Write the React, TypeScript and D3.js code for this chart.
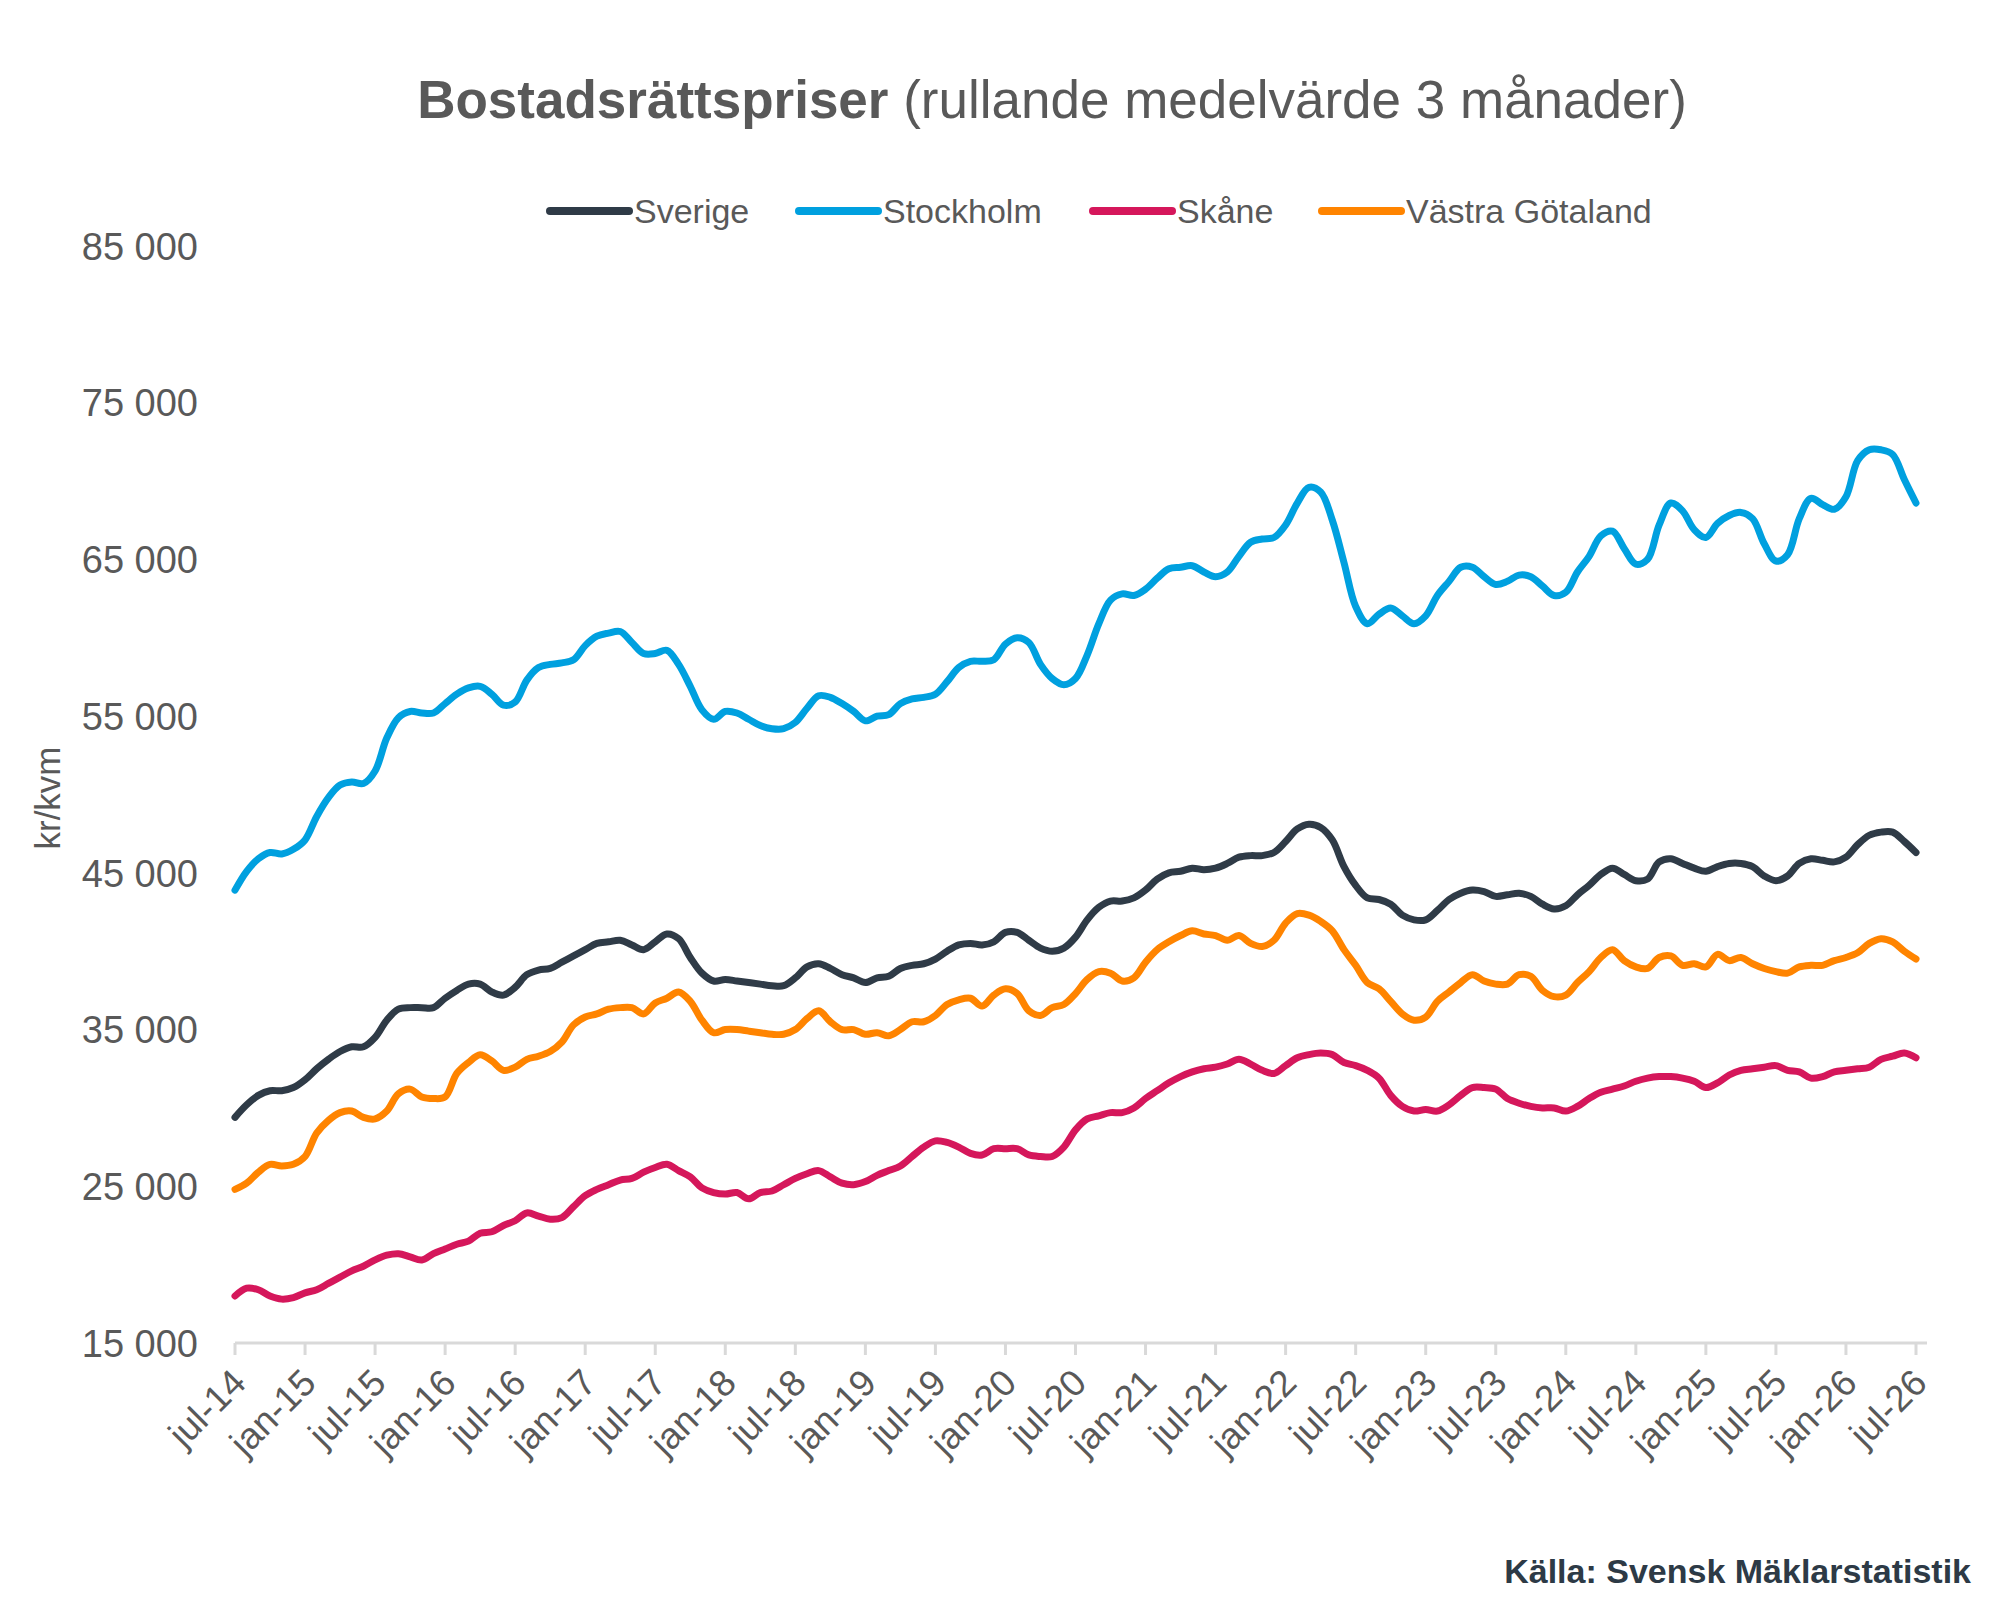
import React, { useEffect, useRef } from "react";
import * as d3 from "d3";

// monthly values, jul-14 .. jul-26 (rolling 3-month mean, kr/kvm)
const sverige: number[] = [
  29400, 30200, 30800, 31100, 31100, 31300, 31800, 32500, 33100, 33600, 33900, 33900,
  34500, 35600, 36300, 36400, 36400, 36400, 37000, 37500, 37900, 37900, 37400, 37200,
  37700, 38500, 38800, 38900, 39300, 39700, 40100, 40500, 40600, 40700, 40400, 40100,
  40600, 41100, 40800, 39600, 38600, 38100, 38200, 38100, 38000, 37900, 37800, 37800,
  38300, 39000, 39200, 38900, 38500, 38300, 38000, 38300, 38400, 38900, 39100, 39200,
  39500, 40000, 40400, 40500, 40400, 40600, 41200, 41200, 40700, 40200, 40000, 40200,
  40900, 42000, 42800, 43200, 43200, 43400, 43900, 44600, 45000, 45100, 45300, 45200,
  45300, 45600, 46000, 46100, 46100, 46300, 47000, 47800, 48100, 47900, 47100, 45400,
  44200, 43400, 43300, 43000, 42300, 42000, 42000, 42600, 43300, 43700, 43900, 43800,
  43500, 43600, 43700, 43500, 43000, 42700, 42900, 43600, 44200, 44900, 45300, 44900,
  44500, 44600, 45700, 45900, 45600, 45300, 45100, 45400, 45600, 45600, 45400, 44800,
  44500, 44800, 45600, 45900, 45800, 45700, 46000, 46800, 47400, 47600, 47600, 47000,
  46300,
];

const stockholm: number[] = [
  43900, 45100, 45900, 46300, 46200, 46500, 47100, 48600, 49800, 50600, 50800, 50700,
  51500, 53600, 54900, 55300, 55200, 55200, 55800, 56400, 56800, 56900, 56400, 55700,
  55900, 57300, 58100, 58300, 58400, 58600, 59500, 60100, 60300, 60400, 59700, 59000,
  59000, 59200, 58300, 56900, 55400, 54800, 55300, 55200, 54800, 54400, 54200, 54200,
  54600, 55500, 56300, 56200, 55800, 55300, 54700, 55000, 55100, 55800, 56100, 56200,
  56400, 57200, 58100, 58500, 58500, 58600, 59600, 60000, 59700, 58300, 57400, 57000,
  57400, 58900, 60900, 62400, 62800, 62700, 63100, 63800, 64400, 64500, 64600, 64200,
  63900, 64200, 65200, 66100, 66300, 66400, 67200, 68600, 69600, 69300, 67500, 64800,
  62000, 60900, 61500, 61900, 61400, 60900, 61400, 62700, 63600, 64500, 64500, 63900,
  63400, 63600, 64000, 63900, 63300, 62700, 62900, 64200, 65200, 66500, 66800, 65700,
  64700, 65000, 67200, 68600, 68100, 66900, 66400, 67300, 67800, 68000, 67600, 66000,
  64900, 65300, 67600, 68900, 68500, 68200, 69000, 71300, 72000, 72000, 71700, 70100,
  68600,
];

const skane: number[] = [
  18000, 18500, 18400, 18000, 17800, 17900, 18200, 18400, 18800, 19200, 19600, 19900,
  20300, 20600, 20700, 20500, 20300, 20700, 21000, 21300, 21500, 22000, 22100, 22500,
  22800, 23300, 23100, 22900, 23000, 23700, 24400, 24800, 25100, 25400, 25500, 25900,
  26200, 26400, 26000, 25600, 24900, 24600, 24500, 24600, 24200, 24600, 24700, 25100,
  25500, 25800, 26000, 25600, 25200, 25100, 25300, 25700, 26000, 26300, 26900, 27500,
  27900, 27800, 27500, 27100, 27000, 27400, 27400, 27400, 27000, 26900, 26900, 27500,
  28600, 29300, 29500, 29700, 29700, 30000, 30600, 31100, 31600, 32000, 32300, 32500,
  32600, 32800, 33100, 32800, 32400, 32200, 32700, 33200, 33400, 33500, 33400, 32900,
  32700, 32400, 31900, 30800, 30100, 29800, 29900, 29800, 30200, 30800, 31300, 31300,
  31200, 30600, 30300, 30100, 30000, 30000, 29800, 30100, 30600, 31000, 31200, 31400,
  31700, 31900, 32000, 32000, 31900, 31700, 31300, 31600, 32100, 32400, 32500, 32600,
  32700, 32400, 32300, 31900, 32000, 32300, 32400, 32500, 32600, 33100, 33300, 33500,
  33200,
];

const vastraGotaland: number[] = [
  24800, 25200, 25900, 26400, 26300, 26400, 26900, 28400, 29200, 29700, 29800, 29400,
  29300, 29800, 30900, 31200, 30700, 30600, 30700, 32200, 32900, 33400, 33000, 32400,
  32600, 33100, 33300, 33600, 34200, 35300, 35800, 36000, 36300, 36400, 36400, 36000,
  36700, 37000, 37400, 36800, 35600, 34800, 35000, 35000, 34900, 34800, 34700, 34700,
  35000, 35700, 36200, 35500, 35000, 35000, 34700, 34800, 34600, 35000, 35500, 35500,
  35900, 36600, 36900, 37000, 36500, 37200, 37600, 37300, 36200, 35900, 36400, 36600,
  37300, 38200, 38700, 38600, 38100, 38300, 39300, 40100, 40600, 41000, 41300, 41100,
  41000, 40700, 41000, 40500, 40300, 40700, 41800, 42400, 42300, 41900, 41300, 40100,
  39100, 38000, 37600, 36800, 36000, 35600, 35800, 36800, 37400, 38000, 38500, 38100,
  37900, 37900, 38500, 38400, 37500, 37100, 37200, 38000, 38700, 39600, 40100, 39400,
  39000, 38900, 39600, 39700, 39100, 39200, 39000, 39800, 39400, 39600, 39200, 38900,
  38700, 38600, 39000, 39100, 39100, 39400, 39600, 39900, 40500, 40800, 40600, 40000,
  39500,
];

const seriesNames = ["Sverige", "Stockholm", "Skåne", "Västra Götaland"];
const seriesColors = ["#2f3b47", "#00a0df", "#d5175b", "#ff8400"];

const xTickLabels = [
  "jul-14", "jan-15", "jul-15", "jan-16", "jul-16", "jan-17", "jul-17",
  "jan-18", "jul-18", "jan-19", "jul-19", "jan-20", "jul-20", "jan-21",
  "jul-21", "jan-22", "jul-22", "jan-23", "jul-23", "jan-24", "jul-24",
  "jan-25", "jul-25", "jan-26", "jul-26",
];
const yTicks = [15000, 25000, 35000, 45000, 55000, 65000, 75000, 85000];

const W = 2000;
const H = 1614;
const FONT = "'Liberation Sans', Arial, sans-serif";
const GREY = "#595959";

const App = () => {
  const ref = useRef<SVGSVGElement>(null);

  useEffect(() => {
    if (!ref.current) return;
    const svg = d3.select(ref.current);
    svg.selectAll("*").remove();

    const allSeries = [sverige, stockholm, skane, vastraGotaland];
    const nMonths = sverige.length - 1;

    const x = d3.scaleLinear().domain([0, nMonths]).range([235, 1916]);
    const y = d3.scaleLinear().domain([15000, 85000]).range([1343, 246]);

    // title
    const title = svg
      .append("text")
      .attr("x", 1052)
      .attr("y", 118)
      .attr("text-anchor", "middle")
      .attr("font-family", FONT)
      .attr("font-size", 53)
      .attr("fill", GREY);
    title.append("tspan").attr("font-weight", "bold").text("Bostadsrättspriser");
    title.append("tspan").text(" (rullande medelvärde 3 månader)");

    // legend
    const legendX = [550, 799, 1093, 1322];
    seriesNames.forEach((name, i) => {
      const g = svg.append("g").attr("transform", `translate(${legendX[i]},211)`);
      g.append("line")
        .attr("x1", 0)
        .attr("x2", 79)
        .attr("stroke", seriesColors[i])
        .attr("stroke-width", 8)
        .attr("stroke-linecap", "round");
      g.append("text")
        .attr("x", 84)
        .attr("y", 12)
        .attr("font-family", FONT)
        .attr("font-size", 34)
        .attr("fill", GREY)
        .text(name);
    });

    // y axis labels
    svg
      .append("g")
      .selectAll("text")
      .data(yTicks)
      .join("text")
      .attr("x", 198)
      .attr("y", (d) => y(d))
      .attr("dy", "0.36em")
      .attr("text-anchor", "end")
      .attr("font-family", FONT)
      .attr("font-size", 38)
      .attr("fill", GREY)
      .text((d) => d3.format(",")(d).replace(",", " "));

    svg
      .append("text")
      .attr("transform", `translate(60,798) rotate(-90)`)
      .attr("text-anchor", "middle")
      .attr("font-family", FONT)
      .attr("font-size", 35)
      .attr("fill", GREY)
      .text("kr/kvm");

    // x axis
    svg
      .append("line")
      .attr("x1", 235)
      .attr("x2", 1927)
      .attr("y1", 1343)
      .attr("y2", 1343)
      .attr("stroke", "#d9d9d9")
      .attr("stroke-width", 3);

    const ticks = svg
      .append("g")
      .selectAll("g")
      .data(xTickLabels)
      .join("g")
      .attr("transform", (_, i) => `translate(${x(i * 6)},1343)`);
    ticks
      .append("line")
      .attr("y2", 12)
      .attr("stroke", "#d9d9d9")
      .attr("stroke-width", 3);
    ticks
      .append("text")
      .attr("transform", "translate(13,42) rotate(-45)")
      .attr("text-anchor", "end")
      .attr("font-family", FONT)
      .attr("font-size", 37)
      .attr("fill", GREY)
      .text((d) => d);

    // lines
    const line = d3
      .line<number>()
      .x((_, i) => x(i))
      .y((d) => y(d))
      .curve(d3.curveCatmullRom.alpha(0.5));

    svg
      .append("g")
      .selectAll("path")
      .data(allSeries)
      .join("path")
      .attr("d", (d) => line(d))
      .attr("fill", "none")
      .attr("stroke", (_, i) => seriesColors[i])
      .attr("stroke-width", 7)
      .attr("stroke-linejoin", "round")
      .attr("stroke-linecap", "round");

    // source
    svg
      .append("text")
      .attr("x", 1971)
      .attr("y", 1583)
      .attr("text-anchor", "end")
      .attr("font-family", FONT)
      .attr("font-size", 34)
      .attr("font-weight", "bold")
      .attr("fill", "#2d3a46")
      .text("Källa: Svensk Mäklarstatistik");
  }, []);

  return (
    <svg
      ref={ref}
      width={W}
      height={H}
      style={{ position: "absolute", left: 0, top: 0, background: "#fff" }}
    />
  );
};

export default App;
